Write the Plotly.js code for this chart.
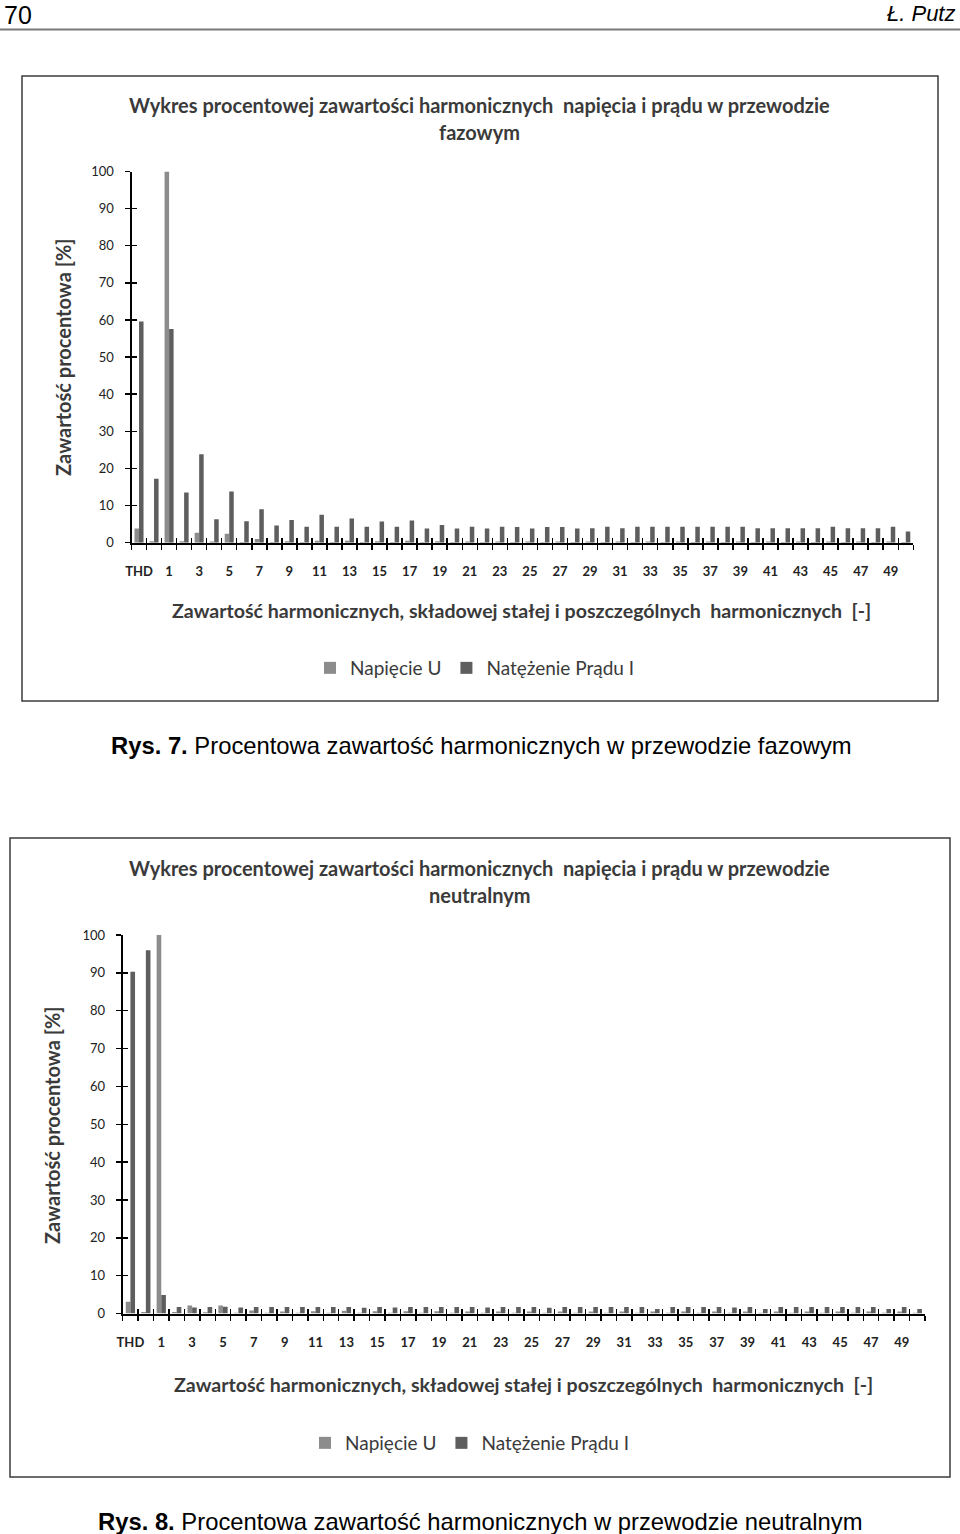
<!DOCTYPE html>
<html>
<head>
<meta charset="utf-8">
<script src="https://cdn.plot.ly/plotly-3.0.1.min.js"></script>
<style>
html,body{margin:0;padding:0;background:#fff;}
#chart{width:960px;height:1534px;}
</style>
</head>
<body>
<div id="chart"></div>
<script>
// ---- data ----
const categories = ['THD','0','1','2','3','4','5','6','7','8','9','10','11','12','13','14','15','16','17','18','19','20',
  '21','22','23','24','25','26','27','28','29','30','31','32','33','34','35','36','37','38','39','40',
  '41','42','43','44','45','46','47','48','49','50'];
const tickLabels = ['THD','','1','','3','','5','','7','','9','','11','','13','','15','','17','','19','',
  '21','','23','','25','','27','','29','','31','','33','','35','','37','','39','',
  '41','','43','','45','','47','','49',''];
const yTicks = [0,10,20,30,40,50,60,70,80,90,100];

// Rys. 7 - przewód fazowy
const phaseVoltage = [3.8,0.4,100,0.4,2.7,0.3,2.4,0.2,1.0,0.2,0.4,0.2,0.5,0.2,0.5,0.2,0.4,0.2,0.5,0.2,0.4,0.2,
  0.3,0.2,0.3,0.2,0.3,0.2,0.3,0.2,0.3,0.2,0.3,0.2,0.3,0.2,0.3,0.2,0.3,0.2,0.3,0.2,
  0.3,0.2,0.3,0.2,0.3,0.2,0.3,0.2,0.3,0.2];
const phaseCurrent = [59.6,17.2,57.6,13.5,23.8,6.3,13.8,5.8,9.0,4.6,6.1,4.3,7.5,4.3,6.5,4.3,5.7,4.3,6.0,3.8,4.8,3.8,
  4.3,3.8,4.3,4.2,3.8,4.2,4.2,3.8,3.9,4.3,3.9,4.3,4.3,4.3,4.3,4.3,4.3,4.3,4.3,3.9,
  3.9,3.9,3.9,3.9,4.3,3.9,3.9,3.9,4.3,3.0];

// Rys. 8 - przewód neutralny
const neutralVoltage = [3.1,0.4,100,0.4,2.1,0.3,2.1,0.2,0.8,0.2,0.5,0.2,0.6,0.2,0.7,0.2,0.6,0.2,0.6,0.2,0.6,0.2,
  0.5,0.2,0.5,0.2,0.5,0.2,0.5,0.2,0.5,0.2,0.5,0.2,0.5,0.2,0.5,0.2,0.5,0.2,0.5,0.2,
  0.5,0.2,0.5,0.2,0.5,0.2,0.5,0.2,0.5,0.2];
const neutralCurrent = [90.3,96.0,4.9,1.7,1.6,1.7,1.8,1.6,1.7,1.7,1.7,1.7,1.7,1.7,1.7,1.5,1.7,1.6,1.7,1.7,1.7,1.7,
  1.7,1.6,1.7,1.7,1.7,1.5,1.7,1.7,1.7,1.7,1.7,1.7,1.2,1.7,1.7,1.7,1.7,1.6,1.7,1.2,
  1.7,1.7,1.7,1.7,1.7,1.7,1.7,1.2,1.7,1.2];

const seriesNames = ['Napięcie U','Natężenie Prądu I'];
const colorU = '#8c8c8c';
const colorI = '#5e5e5e';

// ---- helpers (pixel -> paper) ----
const W = 960, H = 1534;
const px = v => v / W;
const py = v => 1 - v / H;

const FONT = 'Lato, "Open Sans", sans-serif';
const SERIF = '"Liberation Sans", Arial, sans-serif';
const TXT = '#3a3a3a';

const boundaries = categories.map((c,i)=>i-0.5).concat([categories.length-0.5]);

function mainX(domain, anchor){
  return {
    domain: domain, anchor: anchor, type:'category',
    categoryorder:'array', categoryarray: categories,
    range:[-0.5, categories.length-0.5],
    tickmode:'array', tickvals: categories, ticktext: tickLabels,
    tickson:'boundaries', ticks:'outside', ticklen:5, tickwidth:1.5, tickcolor:'#000',
    tickangle:0,
    showline:true, linecolor:'#000', linewidth:2,
    showgrid:false, zeroline:false, ticklabelstandoff:16,
    tickfont:{family:FONT, size:13, color:'#222', weight:700},
    fixedrange:true
  };
}
function overX(over, anchor){
  return {
    overlaying: over, anchor: anchor, type:'linear',
    range:[-0.5, categories.length-0.5],
    tickmode:'array', tickvals: boundaries,
    ticks:'inside', ticklen:5, tickwidth:1.5, tickcolor:'#000',
    showticklabels:false, showline:false, showgrid:false, zeroline:false, fixedrange:true
  };
}
function mainY(domain, anchor){
  return {
    domain: domain, anchor: anchor, range:[0,100],
    tickmode:'array', tickvals: yTicks,
    ticks:'outside', ticklen:5, tickwidth:1.5, tickcolor:'#000',
    showline:true, linecolor:'#000', linewidth:2,
    showgrid:false, zeroline:false, ticklabelstandoff:8,
    tickfont:{family:FONT, size:13, color:'#222'},
    fixedrange:true
  };
}
function overY(over, anchor){
  return {
    overlaying: over, anchor: anchor, range:[0,100],
    tickmode:'array', tickvals: yTicks,
    ticks:'inside', ticklen:5, tickwidth:1.5, tickcolor:'#000',
    showticklabels:false, showline:false, showgrid:false, zeroline:false, fixedrange:true
  };
}

const traces = [
  {type:'bar', name:seriesNames[0], x:categories, y:phaseVoltage, xaxis:'x', yaxis:'y', marker:{color:colorU}, legend:'legend'},
  {type:'bar', name:seriesNames[1], x:categories, y:phaseCurrent, xaxis:'x', yaxis:'y', marker:{color:colorI}, legend:'legend'},
  {type:'scatter', x:[], y:[], xaxis:'x2', yaxis:'y2', showlegend:false, hoverinfo:'skip'},
  {type:'bar', name:seriesNames[0], x:categories, y:neutralVoltage, xaxis:'x3', yaxis:'y3', marker:{color:colorU}, legend:'legend2'},
  {type:'bar', name:seriesNames[1], x:categories, y:neutralCurrent, xaxis:'x3', yaxis:'y3', marker:{color:colorI}, legend:'legend2'},
  {type:'scatter', x:[], y:[], xaxis:'x4', yaxis:'y4', showlegend:false, hoverinfo:'skip'}
];

function ann(text, x, y, size, opts){
  return Object.assign({
    text:text, xref:'paper', yref:'paper', x:px(x), y:py(y),
    xanchor:'center', yanchor:'middle', showarrow:false,
    font:{family:FONT, size:size, color:TXT, weight:700}
  }, opts||{});
}

const NB = '\u00a0';
const annotations = [
  // header
  {text:'70', xref:'paper', yref:'paper', x:px(3), y:1, xanchor:'left', yanchor:'top', showarrow:false, borderpad:0,
   font:{family:SERIF, size:25, color:'#000'}},
  {text:'<i>Ł. Putz</i>', xref:'paper', yref:'paper', x:px(956), y:1, xanchor:'right', yanchor:'top', showarrow:false, borderpad:0,
   font:{family:SERIF, size:22, color:'#000'}},
  // chart 1
  ann('Wykres procentowej zawartości harmonicznych'+NB+' napięcia i prądu w przewodzie', 479, 105, 20),
  ann('fazowym', 479, 132, 20),
  ann('Zawartość procentowa [%]', 63, 357, 20, {textangle:-90}),
  ann('Zawartość harmonicznych, składowej stałej i poszczególnych'+NB+' harmonicznych'+NB+' [-]', 521, 610, 19.6),
  {text:'<b>Rys. 7.</b> Procentowa zawartość harmonicznych w przewodzie fazowym', xref:'paper', yref:'paper',
   x:px(109), y:py(745), xanchor:'left', yanchor:'middle', showarrow:false,
   font:{family:SERIF, size:23.8, color:'#000'}},
  // chart 2
  ann('Wykres procentowej zawartości harmonicznych'+NB+' napięcia i prądu w przewodzie', 479, 868, 20),
  ann('neutralnym', 479, 895, 20),
  ann('Zawartość procentowa [%]', 52, 1125, 20, {textangle:-90}),
  ann('Zawartość harmonicznych, składowej stałej i poszczególnych'+NB+' harmonicznych'+NB+' [-]', 523, 1384, 19.6),
  {text:'<b>Rys. 8.</b> Procentowa zawartość harmonicznych w przewodzie neutralnym', xref:'paper', yref:'paper',
   x:px(96), y:py(1521), xanchor:'left', yanchor:'middle', showarrow:false,
   font:{family:SERIF, size:23.8, color:'#000'}}
];

const shapes = [
  {type:'line', xref:'paper', yref:'paper', x0:0, x1:1, y0:py(29.5), y1:py(29.5), line:{color:'#7a7a7a', width:2}},
  {type:'rect', xref:'paper', yref:'paper', x0:px(22), x1:px(938), y0:py(76), y1:py(701), line:{color:'#3c3c3c', width:1.5}},
  {type:'rect', xref:'paper', yref:'paper', x0:px(10), x1:px(950), y0:py(838), y1:py(1477), line:{color:'#3c3c3c', width:1.5}}
];

const legendBase = {
  orientation:'h', xanchor:'left', yanchor:'middle', bgcolor:'rgba(0,0,0,0)', borderwidth:0,
  font:{family:FONT, size:19, color:TXT},
  traceorder:'normal', itemclick:false, itemdoubleclick:false
};

const layout = {
  width:W, height:H, margin:{l:0,r:0,t:0,b:0},
  paper_bgcolor:'#fff', plot_bgcolor:'rgba(0,0,0,0)',
  barmode:'group', bargap:0.4, bargroupgap:0,
  showlegend:true,
  legend: Object.assign({}, legendBase, {x:px(310), y:py(668)}),
  legend2: Object.assign({}, legendBase, {x:px(305), y:py(1443)}),
  xaxis: mainX([px(131.5), px(913.3)], 'y'),
  yaxis: mainY([py(542.7), py(171.5)], 'x'),
  xaxis2: overX('x', 'y2'),
  yaxis2: overY('y', 'x2'),
  xaxis3: mainX([px(122.7), px(925)], 'y3'),
  yaxis3: mainY([py(1313.5), py(935)], 'x3'),
  xaxis4: overX('x3', 'y4'),
  yaxis4: overY('y3', 'x4'),
  annotations: annotations,
  shapes: shapes,
  hovermode:false
};

Plotly.newPlot('chart', traces, layout, {displayModeBar:false, staticPlot:true});
</script>
</body>
</html>
